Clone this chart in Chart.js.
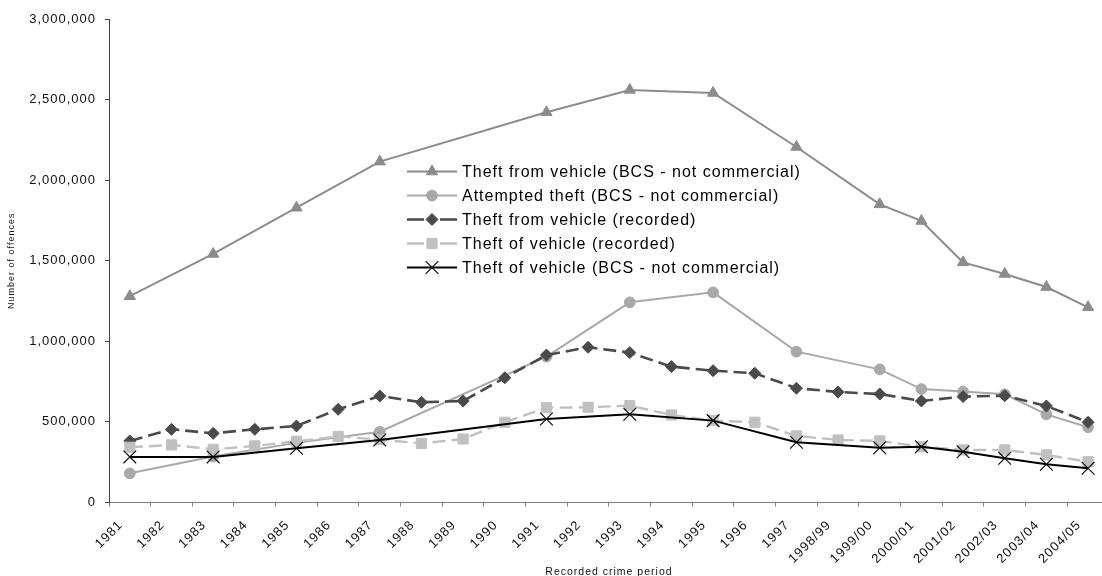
<!DOCTYPE html>
<html><head><meta charset="utf-8">
<script src="https://cdn.jsdelivr.net/npm/chart.js@4.4.0/dist/chart.umd.min.js"></script>
<style>html,body{margin:0;padding:0;background:#fff;overflow:hidden;width:1102px;height:576px}
canvas{display:block}</style></head>
<body><canvas id="c" width="1119" height="576" style="width:1119px;height:576px"></canvas>
<script>
const categories = ['1981','1982','1983','1984','1985','1986','1987','1988','1989','1990','1991','1992','1993','1994','1995','1996','1997','1998/99','1999/00','2000/01','2001/02','2002/03','2003/04','2004/05'];
const seriesNames = ['Theft from vehicle (BCS - not commercial)','Attempted theft (BCS - not commercial)','Theft from vehicle (recorded)','Theft of vehicle (recorded)','Theft of vehicle (BCS - not commercial)'];
const theftFromVehicleBCS = [1280000,null,1542000,null,1829000,null,2115000,null,null,null,2421000,null,2560000,null,2541000,null,2206000,null,1850000,1747000,1490000,1418000,1337000,1211000];
const attemptedTheftBCS = [181000,null,285000,null,370000,null,439000,null,null,null,905000,null,1242000,null,1304000,null,936000,null,826000,704000,688000,671000,547000,467000];
const theftFromVehicleRecorded = [382000,454000,429000,454000,475000,578000,661000,622000,630000,774000,915000,963000,930000,843000,818000,802000,709000,686000,673000,630000,657000,663000,599000,498000];
const theftOfVehicleRecorded = [343000,357000,330000,351000,380000,410000,390000,367000,394000,498000,588000,591000,601000,543000,508000,498000,413000,388000,382000,346000,326000,326000,295000,253000];
const theftOfVehicleBCS = [283000,null,283000,null,336000,null,388000,null,null,null,518000,null,547000,null,508000,null,374000,null,340000,346000,315000,274000,237000,212000];
const yTicks = [0,500000,1000000,1500000,2000000,2500000,3000000];

const FONT = "'Liberation Sans', Arial, sans-serif";
Chart.defaults.font.family = FONT;
Chart.defaults.color = '#111';

const spacingPlugin = {
  id: 'spacing',
  beforeInit(c){ c.ctx.letterSpacing = '1px'; },
  beforeUpdate(c){ c.ctx.letterSpacing = '1px'; },
  beforeLayout(c){ c.ctx.letterSpacing = '1px'; },
  beforeDraw(c){ c.ctx.letterSpacing = '1px'; }
};

const legendPlugin = {
  id: 'customLegend',
  afterDraw(chart){
    const ctx = chart.ctx;
    ctx.save();
    ctx.letterSpacing = '1px';
    const x0 = 407, x1 = 457, xm = 432, tx = 462;
    const top = 171.5, row = 24;
    chart.data.datasets.forEach((ds, i) => {
      const y = top + i*row;
      ctx.strokeStyle = ds.borderColor;
      ctx.lineWidth = ds.borderWidth;
      ctx.setLineDash([]);
      ctx.beginPath();
      if (ds.borderDash && ds.borderDash.length) {
        ctx.moveTo(x0, y); ctx.lineTo(xm-8, y);
        ctx.moveTo(xm+8, y); ctx.lineTo(x1, y);
      } else {
        ctx.moveTo(x0, y); ctx.lineTo(x1, y);
      }
      ctx.stroke();
      ctx.fillStyle = ds.pointBackgroundColor;
      ctx.strokeStyle = ds.pointBorderColor;
      ctx.lineWidth = ds.pointBorderWidth;
      Chart.helpers.drawPoint(ctx, {pointStyle: ds.pointStyle, radius: ds.pointRadius, rotation: 0, borderWidth: ds.pointBorderWidth}, xm, y);
      ctx.fillStyle = '#000';
      ctx.font = '16px ' + FONT;
      ctx.textAlign = 'left';
      ctx.textBaseline = 'middle';
      ctx.fillText(seriesNames[i], tx, y + 1);
    });
    ctx.restore();
  }
};

function ds(label, data, color, style, radius, width, dash, order, extra){
  return Object.assign({
    label, data, borderColor: color, backgroundColor: color,
    pointBackgroundColor: color, pointBorderColor: color, pointBorderWidth: 1,
    pointStyle: style, pointRadius: radius, pointHoverRadius: radius,
    borderWidth: width, borderDash: dash, spanGaps: true, tension: 0, order
  }, extra || {});
}

new Chart(document.getElementById('c'), {
  type: 'line',
  data: {
    labels: categories,
    datasets: [
      ds(seriesNames[0], theftFromVehicleBCS, '#8c8c8c', 'triangle', 6.5, 2, [], 5),
      ds(seriesNames[1], attemptedTheftBCS, '#a9a9a9', 'circle', 5.4, 2, [], 4),
      ds(seriesNames[2], theftFromVehicleRecorded, '#4a4a4a', 'rectRot', 6, 2.6, [13,6], 3),
      ds(seriesNames[3], theftOfVehicleRecorded, '#c0c0c0', 'rect', 7.2, 2.4, [13,6], 2),
      ds(seriesNames[4], theftOfVehicleBCS, '#000000', 'crossRot', 9, 2, [], 1, {pointBorderWidth: 1.1})
    ]
  },
  options: {
    responsive: false,
    animation: false,
    events: [],
    layout: { padding: { left: 0, top: 19, right: 3, bottom: 0 } },
    plugins: { legend: { display: false }, tooltip: { enabled: false } },
    scales: {
      x: {
        type: 'category',
        offset: true,
        grid: { offset: true, drawOnChartArea: false, drawTicks: true, tickLength: 4, color: '#808080', tickWidth: 1 },
        border: { display: true, color: '#808080', width: 1 },
        ticks: { autoSkip: false, maxRotation: 45, minRotation: 45, labelOffset: -9, padding: 11, color: '#111', font: { size: 13 } },
        title: { display: true, text: 'Recorded crime period', color: '#111', font: { size: 10.5 }, padding: { top: 0, bottom: -2 } },
        afterFit(scale){ scale.height = 73.5; }
      },
      y: {
        min: 0, max: 3000000,
        afterBuildTicks(scale){ scale.ticks = yTicks.map(v => ({ value: v })); },
        grid: { drawOnChartArea: false, drawTicks: true, tickLength: 4, color: '#404040' },
        border: { display: true, color: '#404040', width: 1 },
        ticks: { padding: 9, color: '#111', font: { size: 13 }, callback: v => Number(v).toLocaleString('en-US') },
        title: { display: true, text: 'Number of offences', color: '#111', font: { size: 9 }, padding: { top: 6, bottom: 0 } },
        afterFit(scale){ scale.width = 109; }
      }
    }
  },
  plugins: [spacingPlugin, legendPlugin]
});
</script>
</body></html>
